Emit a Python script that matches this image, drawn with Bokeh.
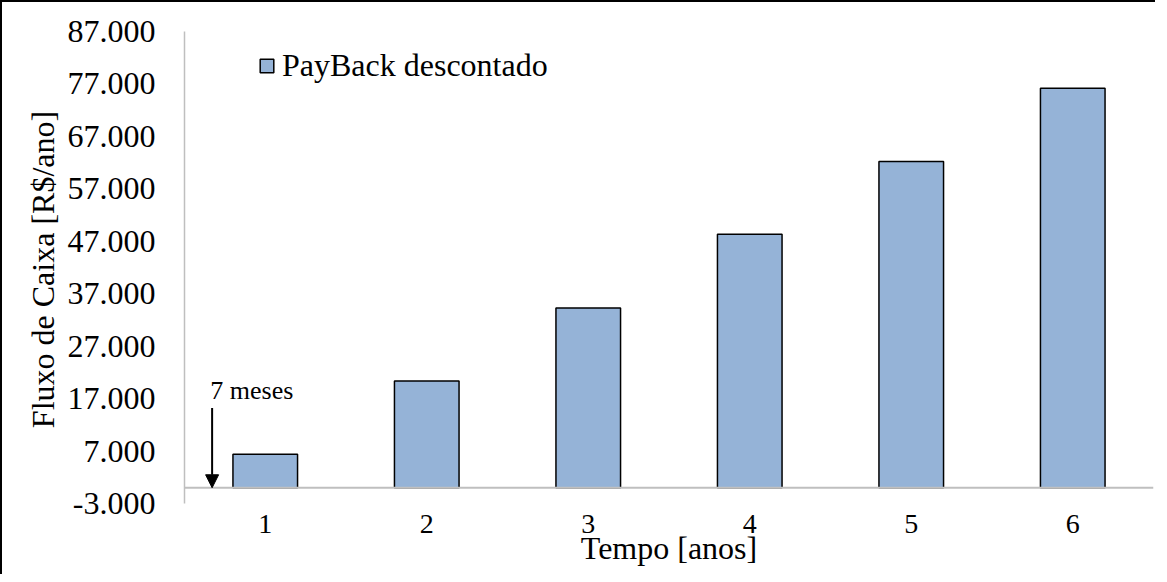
from bokeh.plotting import figure
from bokeh.layouts import row
from bokeh.models import Range1d, FixedTicker, Span, Arrow, NormalHead, Label, Legend, LegendItem
from bokeh.embed import file_html
from bokeh.resources import INLINE

# ---- data ----
years = [1, 2, 3, 4, 5, 6]
x_tick_labels = ["1", "2", "3", "4", "5", "6"]
payback_descontado = [6400, 20350, 34300, 48350, 62200, 76200]
y_ticks = [-3000, 7000, 17000, 27000, 37000, 47000, 57000, 67000, 77000, 87000]
y_tick_labels = ["-3.000", "7.000", "17.000", "27.000", "37.000", "47.000",
                 "57.000", "67.000", "77.000", "87.000"]
series_name = "PayBack descontado"
x_title = "Tempo [anos]"
y_title = "Fluxo de Caixa [R$/ano]"
payback_label = "7 meses"
payback_x = 0.671
arrow_top = 15200
label_x = 0.66
label_y = 18500

FONT = "Liberation Serif"
H = 572
TITLE_W = 62

# ---- narrow strip that holds the vertical y-axis title ----
tfig = figure(width=TITLE_W, height=H, output_backend="svg", toolbar_location=None,
              x_axis_type=None, y_axis_type=None, x_range=Range1d(0, 1), y_range=Range1d(0, 1),
              min_border_left=0, min_border_right=0, min_border_top=0, min_border_bottom=0)
tfig.outline_line_color = None
tfig.xgrid.visible = False
tfig.ygrid.visible = False
tfig.add_layout(Label(x=40, y=234, x_units="screen", y_units="screen", text=y_title,
                      angle=90, angle_units="deg", text_align="center",
                      text_baseline="alphabetic", text_font=FONT, text_font_size="32px",
                      text_color="black"))

# ---- main chart ----
p = figure(width=1153 - TITLE_W, height=H, output_backend="svg", toolbar_location=None,
           x_range=Range1d(0.5, 6.5), y_range=Range1d(-3000, 87000),
           min_border_left=180 - TITLE_W, min_border_right=2, min_border_top=29,
           min_border_bottom=71)
p.outline_line_color = None
p.xgrid.visible = False
p.ygrid.visible = False
p.background_fill_color = "white"
p.border_fill_color = "white"

bars = p.vbar(x=years, top=payback_descontado, bottom=0, width=0.4,
              fill_color="#95B3D7", line_color="black", line_width=1.5)

# zero line
p.add_layout(Span(location=0, dimension="width", line_color="#BFBFBF", line_width=2))

# x axis
p.xaxis.ticker = FixedTicker(ticks=years)
p.xaxis.major_label_overrides = {y: l for y, l in zip(years, x_tick_labels)}
p.xaxis.axis_line_color = None
p.xaxis.major_tick_line_color = None
p.xaxis.minor_tick_line_color = None
p.xaxis.major_label_text_font = FONT
p.xaxis.major_label_text_font_size = "28px"
p.xaxis.major_label_text_color = "black"
p.xaxis.major_label_standoff = 5
p.xaxis.axis_label = x_title
p.xaxis.axis_label_text_font = FONT
p.xaxis.axis_label_text_font_size = "32px"
p.xaxis.axis_label_text_font_style = "normal"
p.xaxis.axis_label_text_color = "black"
p.xaxis.axis_label_standoff = -6

# y axis
p.yaxis.ticker = FixedTicker(ticks=y_ticks)
p.yaxis.major_label_overrides = {t: l for t, l in zip(y_ticks, y_tick_labels)}
p.yaxis.axis_line_color = "#BFBFBF"
p.yaxis.axis_line_width = 1.5
p.yaxis.major_tick_line_color = None
p.yaxis.minor_tick_line_color = None
p.yaxis.major_label_text_font = FONT
p.yaxis.major_label_text_font_size = "32px"
p.yaxis.major_label_text_color = "black"
p.yaxis.major_label_standoff = 23

# payback arrow + label
p.add_layout(Arrow(x_start=payback_x, y_start=arrow_top, x_end=payback_x, y_end=0,
                   line_color="black", line_width=2,
                   end=NormalHead(size=13, fill_color="black", line_color="black")))
p.add_layout(Label(x=label_x, y=label_y, text=payback_label, text_font=FONT,
                   text_font_size="26px", text_color="black", text_baseline="alphabetic"))

legend = Legend(items=[LegendItem(label=series_name, renderers=[bars])],
                location=(74, 419), glyph_width=17, glyph_height=17,
                label_standoff=7, padding=0, margin=0, spacing=0,
                border_line_color=None, background_fill_alpha=0,
                label_text_font=FONT, label_text_font_size="32px",
                label_text_color="black")
p.add_layout(legend)

layout = row(tfig, p)
layout.styles = {"border-left": "2px solid black", "border-top": "2px solid black"}

open("out.html", "w").write(file_html(layout, INLINE))
